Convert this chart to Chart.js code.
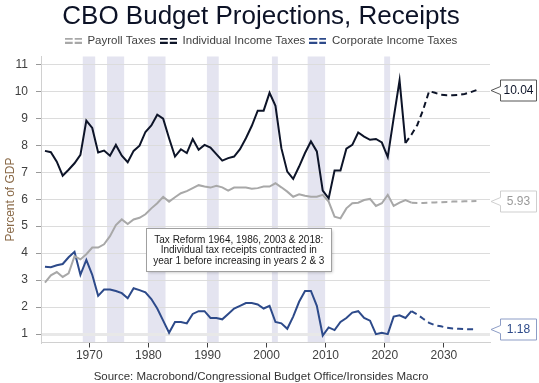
<!DOCTYPE html>
<html>
<head>
<meta charset="utf-8">
<title>CBO Budget Projections, Receipts</title>
<script src="https://cdn.jsdelivr.net/npm/chart.js@4.4.1/dist/chart.umd.min.js"></script>
<style>
  html, body { margin: 0; padding: 0; background: #fff; }
  #wrap { width: 539px; height: 383px; }
</style>
</head>
<body>
<div id="wrap"><canvas id="chart" width="539" height="383"></canvas></div>
<script>
// CBO receipts as % of GDP — history (solid) and CBO projections (dashed)
(function () {
  "use strict";

  var years = [
    1962, 1963, 1964, 1965, 1966, 1967, 1968, 1969, 1970, 1971,
    1972, 1973, 1974, 1975, 1976, 1977, 1978, 1979, 1980, 1981,
    1982, 1983, 1984, 1985, 1986, 1987, 1988, 1989, 1990, 1991,
    1992, 1993, 1994, 1995, 1996, 1997, 1998, 1999, 2000, 2001,
    2002, 2003, 2004, 2005, 2006, 2007, 2008, 2009, 2010, 2011,
    2012, 2013, 2014, 2015, 2016, 2017, 2018, 2019, 2020, 2021,
    2022, 2023, 2024
  ];
  var individual = [
    7.79, 7.74, 7.39, 6.87, 7.09, 7.33, 7.64, 8.91, 8.64, 7.73,
    7.80, 7.61, 8.01, 7.61, 7.37, 7.79, 7.98, 8.49, 8.73, 9.13,
    8.98, 8.26, 7.58, 7.85, 7.71, 8.23, 7.83, 8.01, 7.91, 7.67,
    7.43, 7.52, 7.58, 7.85, 8.26, 8.72, 9.28, 9.28, 9.94, 9.46,
    7.89, 7.02, 6.75, 7.21, 7.71, 8.14, 7.77, 6.32, 6.03, 7.06,
    7.06, 7.87, 8.01, 8.47, 8.32, 8.20, 8.23, 8.10, 7.56, 9.00,
    10.40, 8.08, null
  ];
  var payroll = [
    2.91, 3.18, 3.30, 3.12, 3.25, 3.89, 3.77, 3.96, 4.21, 4.21,
    4.33, 4.63, 5.04, 5.25, 5.08, 5.25, 5.31, 5.44, 5.66, 5.85,
    6.09, 5.91, 6.07, 6.22, 6.30, 6.41, 6.52, 6.47, 6.43, 6.50,
    6.44, 6.32, 6.43, 6.43, 6.43, 6.39, 6.41, 6.47, 6.47, 6.59,
    6.44, 6.28, 6.09, 6.18, 6.13, 6.09, 6.09, 6.16, 5.91, 5.35,
    5.29, 5.66, 5.85, 5.87, 5.97, 6.01, 5.75, 5.85, 6.16, 5.75,
    5.87, 5.97, 5.87
  ];
  var corporate = [
    3.50, 3.48, 3.55, 3.60, 3.85, 4.05, 3.20, 3.75, 3.20, 2.42,
    2.65, 2.65, 2.60, 2.52, 2.33, 2.70, 2.63, 2.55, 2.30, 1.95,
    1.50, 1.05, 1.45, 1.45, 1.40, 1.75, 1.85, 1.85, 1.60, 1.60,
    1.55, 1.75, 1.95, 2.05, 2.15, 2.15, 2.10, 1.95, 2.05, 1.45,
    1.40, 1.20, 1.65, 2.20, 2.60, 2.60, 2.05, 0.95, 1.25, 1.15,
    1.45, 1.60, 1.80, 1.85, 1.60, 1.50, 1.00, 1.05, 1.00, 1.65,
    1.70, 1.60, 1.85
  ];

  var projYears = [2023, 2024, 2025, 2026, 2027, 2028, 2029, 2030, 2031, 2032, 2033, 2034, 2035];
  var individualProj = [8.08, 8.39, 8.75, 9.32, 10.00, 9.94, 9.87, 9.85, 9.85, 9.86, 9.90, 9.96, 10.04];
  var payrollProj = [null, 5.87, 5.86, 5.86, 5.87, 5.88, 5.89, 5.90, 5.91, 5.91, 5.92, 5.92, 5.93];
  var corporateProj = [null, 1.85, 1.73, 1.57, 1.42, 1.33, 1.29, 1.24, 1.21, 1.20, 1.19, 1.18, 1.18];

  // shaded recession periods (axis years)
  var recessionStart = [1968.9, 1973.0, 1979.9, 1989.9, 2000.9, 2006.95, 2019.9];
  var recessionEnd = [1971.0, 1975.9, 1982.9, 1991.9, 2001.9, 2009.9, 2020.9];

  var xTicks = [1970, 1980, 1990, 2000, 2010, 2020, 2030];
  var yTicks = [1, 2, 3, 4, 5, 6, 7, 8, 9, 10, 11];

  var noteLines = [
    "Tax Reform 1964, 1986, 2003 & 2018:",
    "Individual tax receipts contracted in",
    "year 1 before increasing in years 2 & 3"
  ];
  var noteX = 1995.3;
  var noteTop = 4.93;

  var FY_OFFSET = 0.5;
  var FONT = '"Liberation Sans", Arial, Helvetica, sans-serif';
  var GREY = "#a8a8a8";
  var BLACK = "#0d1428";
  var BLUE = "#2d4a8a";

  Chart.defaults.font.family = FONT;

  function toPoints(xs, ys) {
    return xs.map(function (x, i) { return { x: x + FY_OFFSET, y: ys[i] }; });
  }

  // legend swatch: two stacked dashed rows
  function swatch(color) {
    var c = document.createElement("canvas");
    c.width = 17; c.height = 6;
    var g = c.getContext("2d");
    g.fillStyle = color;
    g.fillRect(0, 0, 8, 2); g.fillRect(10, 0, 7, 2);
    g.fillRect(0, 4, 8, 2); g.fillRect(10, 4, 7, 2);
    return c;
  }

  function lineSet(label, pts, color, dashed) {
    return {
      label: label,
      data: pts,
      borderColor: color,
      backgroundColor: color,
      borderWidth: 2,
      borderDash: dashed ? [6, 4] : [],
      pointRadius: 0,
      pointHoverRadius: 0,
      pointStyle: swatch(color),
      tension: 0,
      spanGaps: false
    };
  }

  var recessionPlugin = {
    id: "recessions",
    beforeDraw: function (chart) {
      var ctx = chart.ctx, area = chart.chartArea, xs = chart.scales.x;
      ctx.save();
      ctx.fillStyle = "#e4e4f0";
      recessionStart.forEach(function (s, i) {
        var x0 = xs.getPixelForValue(s), x1 = xs.getPixelForValue(recessionEnd[i]);
        ctx.fillRect(x0, area.top, x1 - x0, area.bottom - area.top);
      });
      ctx.restore();
    }
  };

  var notePlugin = {
    id: "note",
    afterDatasetsDraw: function (chart) {
      var ctx = chart.ctx;
      var cx = chart.scales.x.getPixelForValue(noteX);
      var top = chart.scales.y.getPixelForValue(noteTop);
      ctx.save();
      ctx.font = "10px " + FONT;
      var w = 0;
      noteLines.forEach(function (t) { w = Math.max(w, ctx.measureText(t).width); });
      var bw = Math.round(w + 14), bh = 43;
      var bx = Math.round(cx - bw / 2) + 0.5, by = Math.round(top) + 0.5;
      ctx.shadowColor = "rgba(0,0,0,0.25)";
      ctx.shadowBlur = 3;
      ctx.shadowOffsetX = 1;
      ctx.shadowOffsetY = 1;
      ctx.fillStyle = "#fff";
      ctx.fillRect(bx, by, bw, bh);
      ctx.shadowColor = "transparent";
      ctx.strokeStyle = "#a0a0a0";
      ctx.lineWidth = 1;
      ctx.strokeRect(bx, by, bw, bh);
      ctx.fillStyle = "#1a1a1a";
      ctx.textAlign = "center";
      ctx.textBaseline = "middle";
      noteLines.forEach(function (t, i) {
        ctx.fillText(t, cx, by + 11.5 + i * 10.5);
      });
      ctx.restore();
    }
  };

  var endLabels = [
    { value: individualProj[individualProj.length - 1], text: BLACK, border: "#555" },
    { value: payrollProj[payrollProj.length - 1], text: "#9a9a9a", border: "#cfcfcf" },
    { value: corporateProj[corporateProj.length - 1], text: BLUE, border: "#8d9dc6" }
  ];

  var endLabelPlugin = {
    id: "endLabels",
    afterDraw: function (chart) {
      var ctx = chart.ctx, area = chart.chartArea, ys = chart.scales.y;
      var tip = area.right + 1, left = area.right + 10.5, w = 36, h = 21;
      ctx.save();
      ctx.font = "12px " + FONT;
      ctx.textAlign = "center";
      ctx.textBaseline = "middle";
      endLabels.forEach(function (l) {
        var y = Math.round(ys.getPixelForValue(l.value)) + 0.5;
        var top = y - h / 2, bottom = y + h / 2;
        ctx.beginPath();
        ctx.moveTo(tip, y);
        ctx.lineTo(left, y - 4);
        ctx.lineTo(left, top);
        ctx.lineTo(left + w, top);
        ctx.lineTo(left + w, bottom);
        ctx.lineTo(left, bottom);
        ctx.lineTo(left, y + 4);
        ctx.closePath();
        ctx.fillStyle = "#fff";
        ctx.fill();
        ctx.strokeStyle = l.border;
        ctx.lineWidth = 1;
        ctx.stroke();
        ctx.fillStyle = l.text;
        ctx.fillText(l.value.toFixed(2), left + w / 2, y);
      });
      ctx.restore();
    }
  };

  new Chart(document.getElementById("chart"), {
    type: "line",
    data: {
      datasets: [
        lineSet("Payroll Taxes", toPoints(years, payroll), GREY, false),
        lineSet("Individual Income Taxes", toPoints(years, individual), BLACK, false),
        lineSet("Corporate Income Taxes", toPoints(years, corporate), BLUE, false),
        lineSet("Payroll Taxes (proj.)", toPoints(projYears, payrollProj), GREY, true),
        lineSet("Individual Income Taxes (proj.)", toPoints(projYears, individualProj), BLACK, true),
        lineSet("Corporate Income Taxes (proj.)", toPoints(projYears, corporateProj), BLUE, true)
      ]
    },
    options: {
      responsive: false,
      animation: false,
      layout: { padding: { top: 1, right: 17, bottom: 0, left: 0 } },
      plugins: {
        title: {
          display: true,
          text: "CBO Budget Projections, Receipts",
          color: "#0c1226",
          font: { size: 26, weight: "normal", lineHeight: 1 },
          padding: { top: 3, bottom: 1 }
        },
        subtitle: {
          display: true,
          position: "bottom",
          text: "Source: Macrobond/Congressional Budget Office/Ironsides Macro",
          color: "#333",
          font: { size: 11.5, lineHeight: 1 },
          padding: { top: 0, bottom: 0 }
        },
        legend: {
          display: true,
          labels: {
            usePointStyle: true,
            pointStyleWidth: 17,
            padding: 4,
            color: "#404040",
            font: { size: 11.5 },
            filter: function (item) { return item.datasetIndex < 3; }
          }
        },
        tooltip: { enabled: false }
      },
      scales: {
        x: {
          type: "linear",
          min: 1961.83,
          max: 2037.8,
          afterBuildTicks: function (scale) {
            scale.ticks = xTicks.map(function (v) { return { value: v }; });
          },
          afterFit: function (scale) { scale.height = 29; },
          grid: {
            drawOnChartArea: false,
            drawTicks: true,
            tickLength: 5,
            tickColor: "#404040"
          },
          border: { color: "#d0d0d0" },
          ticks: {
            padding: 1,
            color: "#404040",
            font: { size: 12 },
            maxRotation: 0,
            callback: function (v) { return String(v); }
          }
        },
        y: {
          min: 0.691,
          max: 11.286,
          afterBuildTicks: function (scale) {
            scale.ticks = yTicks.map(function (v) { return { value: v }; });
          },
          afterFit: function (scale) { scale.width = 41; },
          grid: {
            color: function (c) { return c.tick && c.tick.value === 1 ? "#e8e8e8" : "#dcdcdc"; },
            lineWidth: function (c) { return c.tick && c.tick.value === 1 ? 3 : 1; },
            tickLength: 5,
            tickWidth: 1,
            tickColor: "#999"
          },
          border: { color: "#d0d0d0" },
          ticks: {
            padding: 8,
            color: "#404040",
            font: { size: 12 },
            callback: function (v) { return String(v); }
          },
          title: {
            display: true,
            text: "Percent of GDP",
            color: "#8a6a48",
            font: { size: 12 },
            padding: { top: 3, bottom: 0 }
          }
        },
        yRight: {
          position: "right",
          display: true,
          afterFit: function (scale) { scale.width = 32; },
          grid: { display: false },
          border: { display: false },
          ticks: { display: false }
        }
      }
    },
    plugins: [recessionPlugin, notePlugin, endLabelPlugin]
  });
})();
</script>
</body>
</html>
